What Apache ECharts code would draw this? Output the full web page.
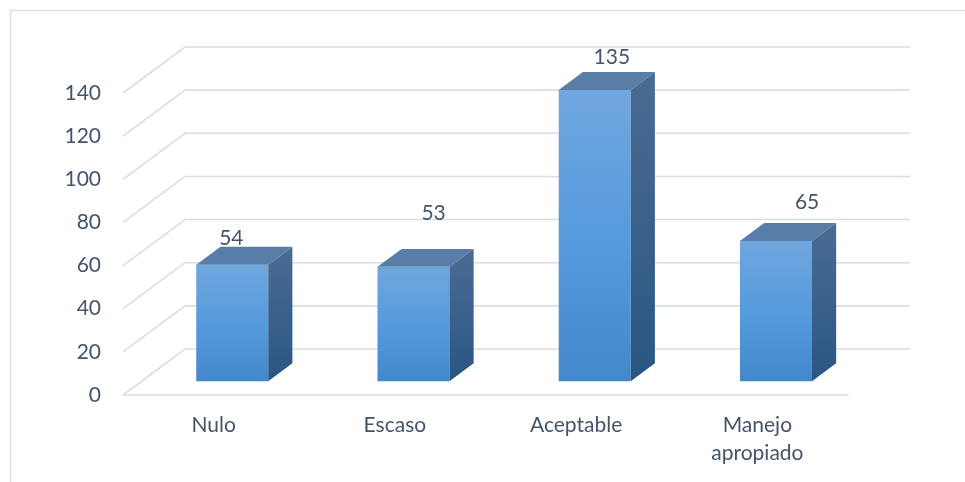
<!DOCTYPE html>
<html><head><meta charset="utf-8">
<script src="https://cdn.jsdelivr.net/npm/echarts@6/dist/echarts.min.js"></script>
<style>html,body{margin:0;padding:0;background:#fff}#c{width:965px;height:482px}</style>
</head><body><div id="c"></div>
<script>
const categories = ['Nulo', 'Escaso', 'Aceptable', 'Manejo\napropiado'];
const values = [54, 53, 135, 65];
const yTicks = [0, 20, 40, 60, 80, 100, 120, 140];

// style constants (3D projection)
const DX = 62, DY = 46;          // depth offset of back wall (px)
const F1 = 0.30, F2 = 0.69;      // bar front / back depth fractions
const BAR_W = 72;
const labelShift = [[-13, -18], [8, -45], [5, -24], [19, -30]];
const TXT = '#44546a';
const GRID = '#d9dde6';
const FONT = 'Lato, "Open Sans", sans-serif';
const FS = 21;

const chart = echarts.init(document.getElementById('c'));

function gridItem(params, api) {
  const cs = params.coordSys;
  const v = api.value(0);
  const y = api.coord([0, v])[1];
  const x0 = cs.x, x1 = cs.x + cs.width;
  return {
    type: 'polyline',
    shape: { points: [[x0, y], [x0 + DX, y - DY], [x1 + DX, y - DY]] },
    style: { stroke: GRID, lineWidth: 1.6, fill: null }
  };
}

function barItem(params, api) {
  const i = api.value(0);
  const v = api.value(1);
  const base = api.coord([i, 0]);
  const top = api.coord([i, v]);
  const x1 = base[0] - BAR_W / 2 + DX * F1;
  const x2 = x1 + BAR_W;
  const yb = base[1] - DY * F1;
  const yt = top[1] - DY * F1;
  const dx = DX * (F2 - F1), dy = -DY * (F2 - F1);
  const sh = labelShift[i] || [0, -20];
  return {
    type: 'group',
    children: [
      {
        type: 'polygon',
        shape: { points: [[x1, yt], [x2, yt], [x2, yb], [x1, yb]] },
        style: {
          fill: new echarts.graphic.LinearGradient(0, 0, 0, 1, [
            { offset: 0, color: '#70a7de' },
            { offset: 0.5, color: '#569bdd' },
            { offset: 1, color: '#4388cb' }
          ])
        }
      },
      {
        type: 'polygon',
        shape: { points: [[x1, yt], [x2, yt], [x2 + dx, yt + dy], [x1 + dx, yt + dy]] },
        style: { fill: '#587ea8' }
      },
      {
        type: 'polygon',
        shape: { points: [[x2, yt], [x2 + dx, yt + dy], [x2 + dx, yb + dy], [x2, yb]] },
        style: {
          fill: new echarts.graphic.LinearGradient(0, 0, 0, 1, [
            { offset: 0, color: '#4a6c93' },
            { offset: 1, color: '#2a5683' }
          ])
        }
      },
      {
        type: 'text',
        style: {
          text: String(v),
          x: (x1 + x2) / 2 + dx / 2 + sh[0],
          y: yt + dy / 2 + sh[1],
          align: 'center',
          verticalAlign: 'middle',
          fill: TXT,
          font: FS + 'px ' + FONT
        }
      }
    ]
  };
}

chart.setOption({
  backgroundColor: '#fff',
  animation: false,
  graphic: [{
    type: 'rect',
    shape: { x: 10.5, y: 10.5, width: 1000, height: 1000 },
    style: { fill: null, stroke: '#dde2ea', lineWidth: 1.5 },
    silent: true
  }],
  grid: { left: 123, right: 117, top: 93, bottom: 87, containLabel: false },
  xAxis: {
    type: 'category',
    data: categories,
    boundaryGap: true,
    axisLine: { show: true, lineStyle: { color: GRID, width: 1.6 } },
    axisTick: { show: false },
    splitLine: { show: false },
    axisLabel: { color: TXT, fontSize: FS, fontFamily: FONT, lineHeight: 28, margin: 16 }
  },
  yAxis: {
    type: 'value',
    min: 0, max: 140, interval: 20,
    axisLine: { show: false },
    axisTick: { show: false },
    splitLine: { show: false },
    axisLabel: { color: TXT, fontSize: FS, fontFamily: FONT, margin: 22 }
  },
  series: [
    {
      type: 'custom',
      renderItem: gridItem,
      data: yTicks.map(t => [t]),
      encode: { y: 0 },
      silent: true,
      z: 1
    },
    {
      type: 'custom',
      renderItem: barItem,
      data: values.map((v, i) => [i, v]),
      encode: { x: 0, y: 1 },
      z: 5
    }
  ]
});
</script></body></html>
